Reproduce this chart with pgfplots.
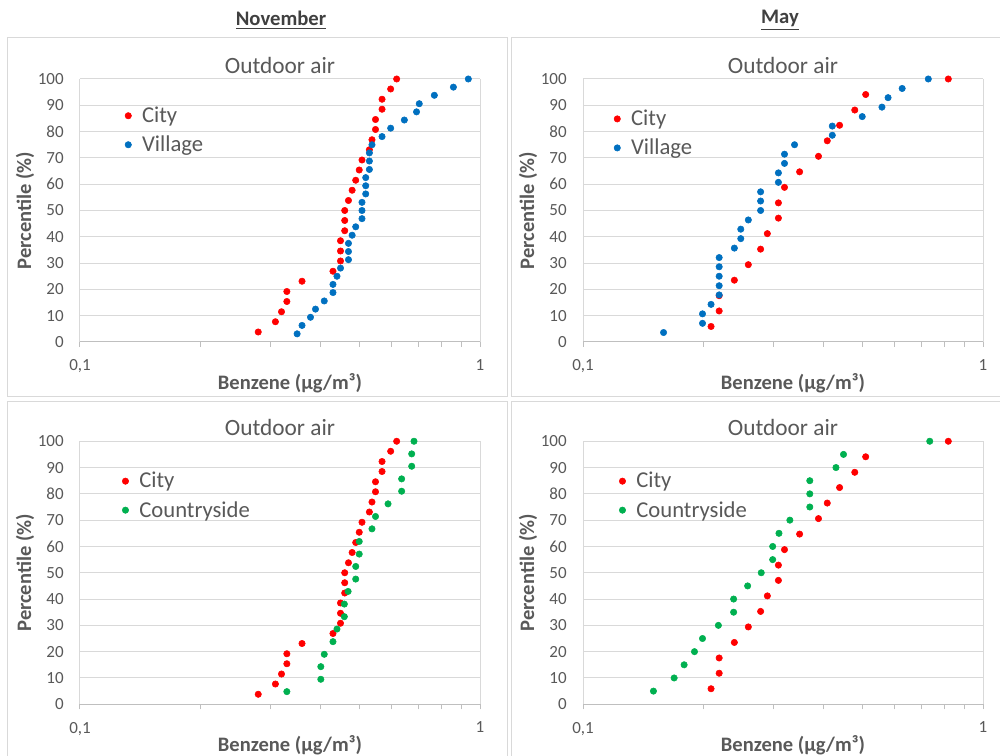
\documentclass[border=0pt]{standalone}
\usepackage{fontspec}
\setmainfont{Carlito}
\usepackage{pgfplots}
\pgfplotsset{compat=1.18}
\usepackage{pgfplotstable}
\definecolor{cred}{HTML}{FF0000}
\definecolor{cblue}{HTML}{0070C0}
\definecolor{cgreen}{HTML}{00B050}
\definecolor{txt}{HTML}{595959}
\definecolor{grd}{HTML}{D9D9D9}
\definecolor{axl}{HTML}{BFBFBF}
\definecolor{hdr}{HTML}{404040}

\pgfplotstableread{
x y
0.279 3.8
0.308 7.7
0.319 11.5
0.329 15.4
0.329 19.2
0.359 23.1
0.429 26.9
0.448 30.8
0.448 34.6
0.448 38.5
0.459 42.3
0.459 46.2
0.459 50.0
0.469 53.8
0.479 57.7
0.489 61.5
0.499 65.4
0.507 69.2
0.529 73.1
0.537 76.9
0.548 80.8
0.548 84.6
0.569 88.5
0.569 92.3
0.598 96.2
0.619 100
}\novcity

\pgfplotstableread{
x y
0.349 3.1
0.359 6.3
0.377 9.4
0.388 12.5
0.408 15.6
0.429 18.8
0.429 21.9
0.439 25.0
0.448 28.1
0.469 31.3
0.469 34.4
0.469 37.5
0.479 40.6
0.489 43.8
0.507 46.9
0.507 50.0
0.507 53.1
0.518 56.3
0.518 59.4
0.518 62.5
0.529 65.6
0.529 68.8
0.529 71.9
0.537 75.0
0.569 78.1
0.598 81.3
0.647 84.4
0.694 87.5
0.705 90.6
0.769 93.8
0.858 96.9
0.935 100
}\novvillage

\pgfplotstableread{
x y
0.329 4.8
0.400 9.5
0.400 14.3
0.408 19.0
0.429 23.8
0.439 28.6
0.458 33.3
0.458 38.1
0.468 42.9
0.489 47.6
0.489 52.4
0.499 57.1
0.499 61.9
0.537 66.7
0.548 71.4
0.589 76.2
0.637 81.0
0.637 85.7
0.675 90.5
0.675 95.2
0.684 100
}\novcountry

\pgfplotstableread{
x y
0.209 5.9
0.219 11.8
0.219 17.6
0.239 23.5
0.259 29.4
0.278 35.3
0.289 41.2
0.308 47.1
0.308 52.9
0.319 58.8
0.348 64.7
0.388 70.6
0.408 76.5
0.438 82.4
0.478 88.2
0.509 94.1
0.819 100
}\maycity

\pgfplotstableread{
x y
0.159 3.6
0.199 7.1
0.199 10.7
0.209 14.3
0.219 17.9
0.219 21.4
0.219 25.0
0.219 28.6
0.219 32.1
0.239 35.7
0.248 39.3
0.248 42.9
0.259 46.4
0.278 50.0
0.278 53.6
0.278 57.1
0.308 60.7
0.308 64.3
0.319 67.9
0.319 71.4
0.338 75.0
0.420 78.6
0.420 82.1
0.499 85.7
0.559 89.3
0.579 92.9
0.628 96.4
0.730 100
}\mayvillage

\pgfplotstableread{
x y
0.150 5
0.169 10
0.179 15
0.190 20
0.199 25
0.218 30
0.238 35
0.238 40
0.258 45
0.279 50
0.298 55
0.298 60
0.309 65
0.329 70
0.369 75
0.369 80
0.369 85
0.429 90
0.448 95
0.736 100
}\maycountry

\pgfplotsset{
  every axis/.append style={
    scale only axis, width=300pt, height=197.25pt,
    xmin=0.1, xmax=1, ymin=0, ymax=100,
    xtick={0.1,1}, xticklabels={{\mbox{0,1}},\mbox{1}},
    minor xtick={0.2,0.3,0.4,0.5,0.6,0.7,0.8,0.9},
    ytick={0,10,20,30,40,50,60,70,80,90,100},
    yticklabels={\mbox{0},\mbox{10},\mbox{20},\mbox{30},\mbox{40},\mbox{50},\mbox{60},\mbox{70},\mbox{80},\mbox{90},\mbox{100}},
    xmajorgrids, ymajorgrids, major grid style={grd, line width=0.75pt},
    axis line style={draw=none},
    extra y ticks={0}, extra y tick labels={},
    extra y tick style={grid=major, major grid style={axl, line width=0.75pt}, tick style={draw=none}},
    tick pos=left, tick align=outside,
    xtick style={axl, line width=0.75pt},
    ytick style={draw=none},
    major tick length=3.75pt, minor tick length=3.75pt,
    ticklabel style={font=\fontsize{12.75}{15}\selectfont, text=txt},
    yticklabel style={xshift=-5pt},
    xticklabel style={yshift=-6pt},
    title style={yshift=-5.5pt, font=\fontsize{17.5}{21}\selectfont, text=txt},
    xlabel style={at={(axis description cs:0.525,-0.156)}, anchor=center,
      font=\bfseries\fontsize{15.4}{18}\selectfont, text=txt},
    ylabel style={at={(axis description cs:-0.1375,0.5)}, anchor=center,
      font=\bfseries\fontsize{15.4}{18}\selectfont, text=txt},
    legend cell align=left,
    legend style={draw=none, fill=none,
      font=\fontsize{17}{20}\selectfont, text=txt, row sep=4.5pt,
      /tikz/every odd column/.append style={column sep=6pt},
      anchor=north west},
  },
}

\begin{document}
\begin{tikzpicture}
\useasboundingbox (0,0) rectangle (750pt,567pt);
\fill[white] (0,0) rectangle (750pt,567pt);
\draw[grd, line width=0.75pt] (5.25pt,269.25pt) rectangle (380.25pt,538.5pt);
\draw[grd, line width=0.75pt] (383.25pt,269.25pt) rectangle (755pt,538.5pt);
\draw[grd, line width=0.75pt] (5.25pt,-5pt) rectangle (380.25pt,265.5pt);
\draw[grd, line width=0.75pt] (383.25pt,-5pt) rectangle (755pt,265.5pt);
\node[font=\bfseries\fontsize{15.5}{18}\selectfont, text=hdr] at (210.75pt,552pt) {\underline{November}};
\node[font=\bfseries\fontsize{15.5}{18}\selectfont, text=hdr] at (585pt,552pt) {\underline{May}};

\begin{semilogxaxis}[anchor=south west, at={(60pt,310.5pt)},
  legend style={at={(0.102,0.915)}},
  title={Outdoor air}, xlabel={Benzene (µg/m³)}, ylabel={Percentile (\%)}]
\addplot[only marks, mark=*, mark size=2.4pt, color=cred] table[x=x,y=y] {\novcity};
\addplot[only marks, mark=*, mark size=2.4pt, color=cblue] table[x=x,y=y] {\novvillage};
\legend{City,Village}
\end{semilogxaxis}

\begin{semilogxaxis}[anchor=south west, at={(437.25pt,310.5pt)},
  legend style={at={(0.067,0.903)}},
  title={Outdoor air}, xlabel={Benzene (µg/m³)}, ylabel={Percentile (\%)}]
\addplot[only marks, mark=*, mark size=2.4pt, color=cred] table[x=x,y=y] {\maycity};
\addplot[only marks, mark=*, mark size=2.4pt, color=cblue] table[x=x,y=y] {\mayvillage};
\legend{City,Village}
\end{semilogxaxis}

\begin{semilogxaxis}[anchor=south west, at={(60pt,38.8pt)},
  legend style={at={(0.095,0.903)}},
  title={Outdoor air}, xlabel={Benzene (µg/m³)}, ylabel={Percentile (\%)}]
\addplot[only marks, mark=*, mark size=2.4pt, color=cred] table[x=x,y=y] {\novcity};
\addplot[only marks, mark=*, mark size=2.4pt, color=cgreen] table[x=x,y=y] {\novcountry};
\legend{City,Countryside}
\end{semilogxaxis}

\begin{semilogxaxis}[anchor=south west, at={(437.25pt,38.8pt)},
  legend style={at={(0.080,0.903)}},
  title={Outdoor air}, xlabel={Benzene (µg/m³)}, ylabel={Percentile (\%)}]
\addplot[only marks, mark=*, mark size=2.4pt, color=cred] table[x=x,y=y] {\maycity};
\addplot[only marks, mark=*, mark size=2.4pt, color=cgreen] table[x=x,y=y] {\maycountry};
\legend{City,Countryside}
\end{semilogxaxis}
\end{tikzpicture}
\end{document}
